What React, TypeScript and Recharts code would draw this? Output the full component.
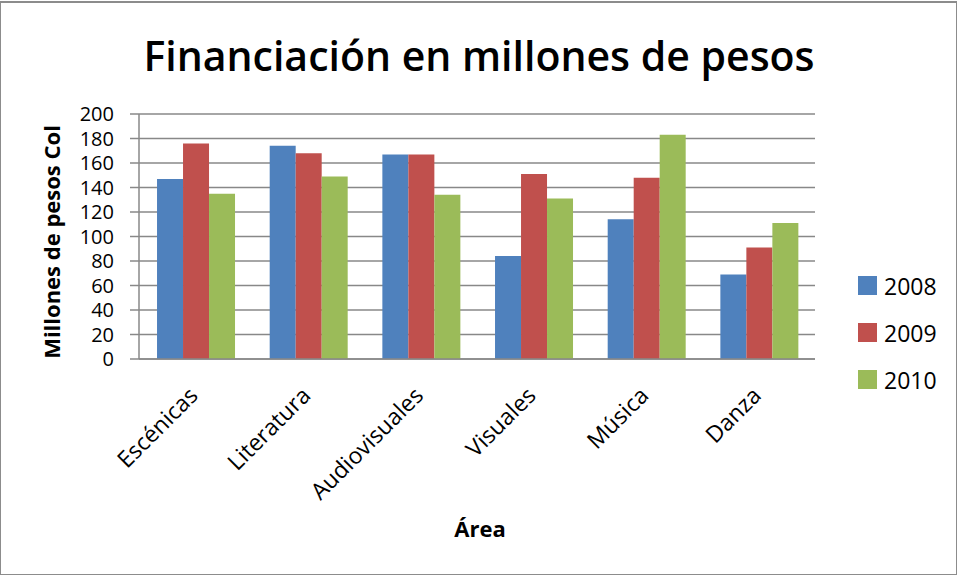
import { BarChart, Bar, XAxis, YAxis, CartesianGrid, Legend } from "recharts";

const areas = ["Escénicas", "Literatura", "Audiovisuales", "Visuales", "Música", "Danza"];
const values2008 = [147, 174, 167, 84, 114, 69];
const values2009 = [176, 168, 167, 151, 148, 91];
const values2010 = [135, 149, 134, 131, 183, 111];
const yTicks = [0, 20, 40, 60, 80, 100, 120, 140, 160, 180, 200];

const series = [
  { key: "y2008", name: "2008", color: "#4F81BD" },
  { key: "y2009", name: "2009", color: "#C0504D" },
  { key: "y2010", name: "2010", color: "#9BBB59" },
];

const data = areas.map((area, i) => ({
  area,
  y2008: values2008[i],
  y2009: values2009[i],
  y2010: values2010[i],
}));

const FONT = "'Open Sans', 'Noto Sans', sans-serif";

function AreaTick({ x, y, payload }: any) {
  const ax = x + 4;
  const ay = y + 30;
  return (
    <text
      x={ax}
      y={ay}
      transform={`rotate(-45, ${ax}, ${ay})`}
      textAnchor="end"
      fontSize={23}
      fontFamily={FONT}
      fill="#000"
    >
      {payload.value}
    </text>
  );
}

function YearLegend() {
  return (
    <div style={{ fontFamily: FONT, fontSize: 23, color: "#000" }}>
      {series.map((s) => (
        <div key={s.key} style={{ display: "flex", alignItems: "center", height: 47 }}>
          <div style={{ width: 19, height: 19, background: s.color, marginRight: 7 }} />
          <span>{s.name}</span>
        </div>
      ))}
    </div>
  );
}

export default function App() {
  return (
    <div style={{ position: "absolute", left: 0, top: 0, width: 960, height: 577, background: "#fff" }}>
      <div
        style={{
          position: "absolute",
          left: 0,
          top: 1,
          width: 957,
          height: 574,
          border: "1px solid #8c8c8c",
          borderTop: "2px solid #8c8c8c",
          boxSizing: "border-box",
        }}
      />
      <div
        style={{
          position: "absolute",
          left: 0,
          top: 27,
          width: 958,
          textAlign: "center",
          fontFamily: FONT,
          fontSize: 41,
          fontWeight: 600,
          color: "#000",
        }}
      >
        Financiación en millones de pesos
      </div>
      <BarChart
        width={960}
        height={577}
        data={data}
        margin={{ top: 114, right: 145, bottom: 188, left: 79 }}
        barCategoryGap="16%"
        barGap={0}
        style={{ position: "absolute", left: 0, top: 0 }}
      >
        <CartesianGrid vertical={false} stroke="#888888" strokeWidth={1.5} />
        <XAxis
          dataKey="area"
          stroke="#888888"
          strokeWidth={1.5}
          tickLine={false}
          interval={0}
          tick={<AreaTick />}
          height={30}
        />
        <YAxis
          domain={[0, 200]}
          ticks={yTicks}
          interval={0}
          width={60}
          stroke="#888888"
          strokeWidth={1.5}
          tickSize={9}
          tickMargin={16}
          tick={{ fill: "#000", fontSize: 20, fontFamily: FONT }}
        />
        <Legend
          layout="vertical"
          align="center"
          verticalAlign="middle"
          content={<YearLegend />}
          wrapperStyle={{ left: 858, top: 262, width: 100, height: 141 }}
        />
        {series.map((s) => (
          <Bar key={s.key} dataKey={s.key} name={s.name} fill={s.color} isAnimationActive={false} />
        ))}
      </BarChart>
      <div
        style={{
          position: "absolute",
          left: 0,
          top: 513,
          width: 960,
          textAlign: "center",
          fontFamily: FONT,
          fontSize: 22,
          fontWeight: 700,
        }}
      >
        Área
      </div>
      <div
        style={{
          position: "absolute",
          left: 51,
          top: 242,
          transform: "translate(-50%, -50%) rotate(-90deg)",
          whiteSpace: "nowrap",
          fontFamily: FONT,
          fontSize: 22,
          fontWeight: 700,
        }}
      >
        Millones de pesos Col
      </div>
    </div>
  );
}
